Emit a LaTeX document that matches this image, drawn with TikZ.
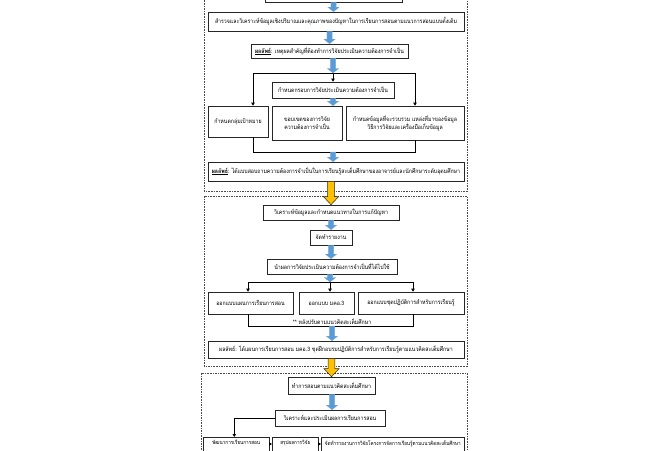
\documentclass[tikz,border=0pt]{standalone}
\usepackage{fontspec}
\newfontfamily\thai[Script=Thai, FakeStretch=0.87]{Loma}
\usetikzlibrary{calc,arrows.meta}
\definecolor{bfill}{HTML}{5B9BD5}
\definecolor{yfill}{HTML}{FFC000}
\tikzset{
  box/.style={draw=black!85, line width=0.6pt, fill=white, inner sep=0pt, align=center,
              font=\thai\fontsize{6}{7.8}\selectfont},
  lbl/.style={inner sep=0pt, align=center, font=\thai\fontsize{6}{7.8}\selectfont},
  smalllbl/.style={inner sep=0pt, align=center, font=\thai\fontsize{5.35}{7}\selectfont},
  frame/.style={draw=black!70, line width=0.7pt, dash pattern=on 1.6pt off 1pt},
  conn/.style={draw=black, line width=0.9pt},
  connarr/.style={conn, -{Triangle[length=3pt,width=3.4pt]}},
  bluearr/.style={fill=bfill, draw=bfill!85!white, line width=0.3pt},
  yelarr/.style={fill=yfill, draw=black!85, line width=0.5pt},
}
\newcommand\mkbox[6]{%
  \pgfmathsetmacro\bw{#4-#2}\pgfmathsetmacro\bh{#5-#3}%
  \pgfmathsetmacro\bcx{(#2+#4)/2}\pgfmathsetmacro\bcy{(#3+#5)/2}%
  \node[box, minimum width=\bw pt, minimum height=\bh pt] (#1) at (\bcx,\bcy) {#6};}
\newcommand\barr[2]{%
  \path[bluearr] let \p1=(#1), \p2=(#2) in
   ({\x1-2.6pt},\y1) -- ({\x1+2.6pt},\y1) -- ({\x1+2.6pt},{\y2+4.5pt}) -- ({\x1+5.6pt},{\y2+4.5pt})
   -- (\x1,\y2) -- ({\x1-5.6pt},{\y2+4.5pt}) -- ({\x1-2.6pt},{\y2+4.5pt}) -- cycle;}
\newcommand\yarr[2]{%
  \path[yelarr] let \p1=(#1), \p2=(#2) in
   ({\x1-3.4pt},\y1) -- ({\x1+3.4pt},\y1) -- ({\x1+3.4pt},{\y2+8pt}) -- ({\x1+7.5pt},{\y2+8pt})
   -- (\x1,\y2) -- ({\x1-7.5pt},{\y2+8pt}) -- ({\x1-3.4pt},{\y2+8pt}) -- cycle;}
\begin{document}
\begin{tikzpicture}[x=1pt,y=-1pt]
\useasboundingbox (0,0) rectangle (650,450);
\clip (0,0) rectangle (650,450);
\fill[white] (0,0) rectangle (650,450);
% section frames
\draw[frame] (204,-10) rectangle (467,191);
\draw[frame] (204,196) rectangle (467,366);
\draw[frame] (201,373) rectangle (467,462);
% section 1
\mkbox{S0}{265}{-15}{402}{2}{}
\mkbox{S1}{208}{12}{464}{31}{สำรวจและวิเคราะห์ข้อมูลเชิงปริมาณและคุณภาพของปัญหาในการเรียนการสอนตามแนวการสอนแบบดั้งเดิม}
\mkbox{R1}{251}{44}{408}{58}{\underline{\textbf{ผลลัพธ์}}: เหตุผลสำคัญที่ต้องทำการวิจัยประเมินความต้องการจำเป็น}
\mkbox{F}{272}{82}{394}{98}{กำหนดกรอบการวิจัยประเมินความต้องการจำเป็น}
\mkbox{T1}{208}{106}{268}{137}{กำหนดกลุ่มเป้าหมาย}
\mkbox{T2}{272}{106}{342}{140}{ขอบเขตของการวิจัย\\ความต้องการจำเป็น}
\mkbox{T3}{346}{106}{464}{140}{กำหนดข้อมูลที่จะรวบรวม แหล่งที่มาของข้อมูล\\วิธีการวิจัยและเครื่องมือเก็บข้อมูล}
\mkbox{R2}{208}{162}{464}{181}{\underline{\textbf{ผลลัพธ์}}: ได้แบบสอบถามความต้องการจำเป็นในการเรียนรู้สะเต็มศึกษาของอาจารย์และนักศึกษาระดับอุดมศึกษา}
\barr{S0.south}{S0.south |- S1.north}
\barr{R1.south |- S1.south}{R1.south |- R1.north}
\coordinate (bm1) at (333,73);
\coordinate (bl1) at (253,73);
\coordinate (bR1) at (415,73);
\barr{bm1 |- R1.south}{bm1}
\draw[conn] (bl1) -- (bR1);
\draw[connarr] (bl1) -- (bl1 |- T1.north);
\draw[connarr] (bR1) -- (bR1 |- T3.north);
\draw[connarr] (bm1) -- (bm1 |- F.north);
\barr{bm1 |- F.south}{bm1 |- T2.north}
\coordinate (ml1) at (253,152);
\coordinate (mr1) at (415,152);
\coordinate (mm1) at (333,152);
\draw[conn] (ml1 |- T1.south) -- (ml1) -- (mr1) -- (mr1 |- T3.south);
\barr{mm1}{mm1 |- R2.north}
% section 2
\mkbox{An}{263}{205}{399}{220}{วิเคราะห์ข้อมูลและกำหนดแนวทางในการแก้ปัญหา}
\mkbox{Rep}{310}{230}{352}{245}{จัดทำรายงาน}
\mkbox{Use}{267}{259}{397}{274}{นำผลการวิจัยประเมินความต้องการจำเป็นที่ได้ไปใช้}
\mkbox{D1}{208}{292}{293}{314}{ออกแบบแผนการเรียนการสอน}
\mkbox{D2}{299}{292}{354}{314}{ออกแบบ มคอ.3}
\mkbox{D3}{358}{292}{464}{314}{ออกแบบชุดปฏิบัติการสำหรับการเรียนรู้}
\mkbox{R3}{208}{341}{464}{358}{ผลลัพธ์: ได้แผนการเรียนการสอน มคอ.3 ชุดฝึกอบรมปฏิบัติการสำหรับการเรียนรู้ตามแนวคิดสะเต็มศึกษา}
\yarr{An.north |- R2.south}{An.north}
\barr{An.south -| Rep.north}{Rep.north}
\barr{Rep.south}{Rep.south |- Use.north}
\coordinate (bm2) at (330,282);
\coordinate (bl2) at (248,282);
\coordinate (bR2) at (413,282);
\barr{bm2 |- Use.south}{bm2}
\draw[conn] (bl2) -- (bR2);
\draw[connarr] (bl2) -- (bl2 |- D1.north);
\draw[connarr] (bR2) -- (bR2 |- D3.north);
\draw[connarr] (bm2) -- (bm2 |- D2.north);
\coordinate (ml2) at (248,326);
\coordinate (mr2) at (413,326);
\coordinate (mm2) at (332,326);
\draw[conn] (ml2 |- D1.south) -- (ml2) -- (mr2) -- (mr2 |- D3.south);
\node[lbl, anchor=south] (note) at (332,325) {** หลังปรับตามแนวคิดสะเต็มศึกษา};
\barr{mm2}{mm2 |- R3.north}
% section 3
\mkbox{Teach}{288}{377}{375}{394}{ทำการสอนตามแนวคิดสะเต็มศึกษา}
\mkbox{Ev}{275}{410}{385}{426}{วิเคราะห์และประเมินผลการเรียนการสอน}
\yarr{Teach.north |- R3.south}{Teach.north}
\barr{Teach.south -| 332,0}{Ev.north -| 332,0}
\node[box, minimum width=66pt, minimum height=33pt, anchor=north west,
      label={[smalllbl, anchor=north, yshift=-3pt]north:พัฒนาการเรียนการสอน}] (B1) at (203,437) {};
\node[box, minimum width=46pt, minimum height=33pt, anchor=north west,
      label={[smalllbl, anchor=north, yshift=-3pt]north:สรุปผลการวิจัย}] (B2) at (272,437) {};
\node[box, minimum width=143pt, minimum height=33pt, anchor=north west,
      label={[smalllbl, anchor=north, yshift=-3pt]north:จัดทำรายงานการวิจัยโครงการจัดการเรียนรู้ตามแนวคิดสะเต็มศึกษา}] (B3) at (321,437) {};
\draw[connarr] (Ev.west) -| ([xshift=-2pt]B1.north);
\draw[connarr] ([yshift=-7pt]B1.north east) -- ([yshift=-7pt]B2.north west);
\draw[connarr] ([yshift=-7pt]B2.north east) -- ([yshift=-7pt]B3.north west);
\end{tikzpicture}
\end{document}
